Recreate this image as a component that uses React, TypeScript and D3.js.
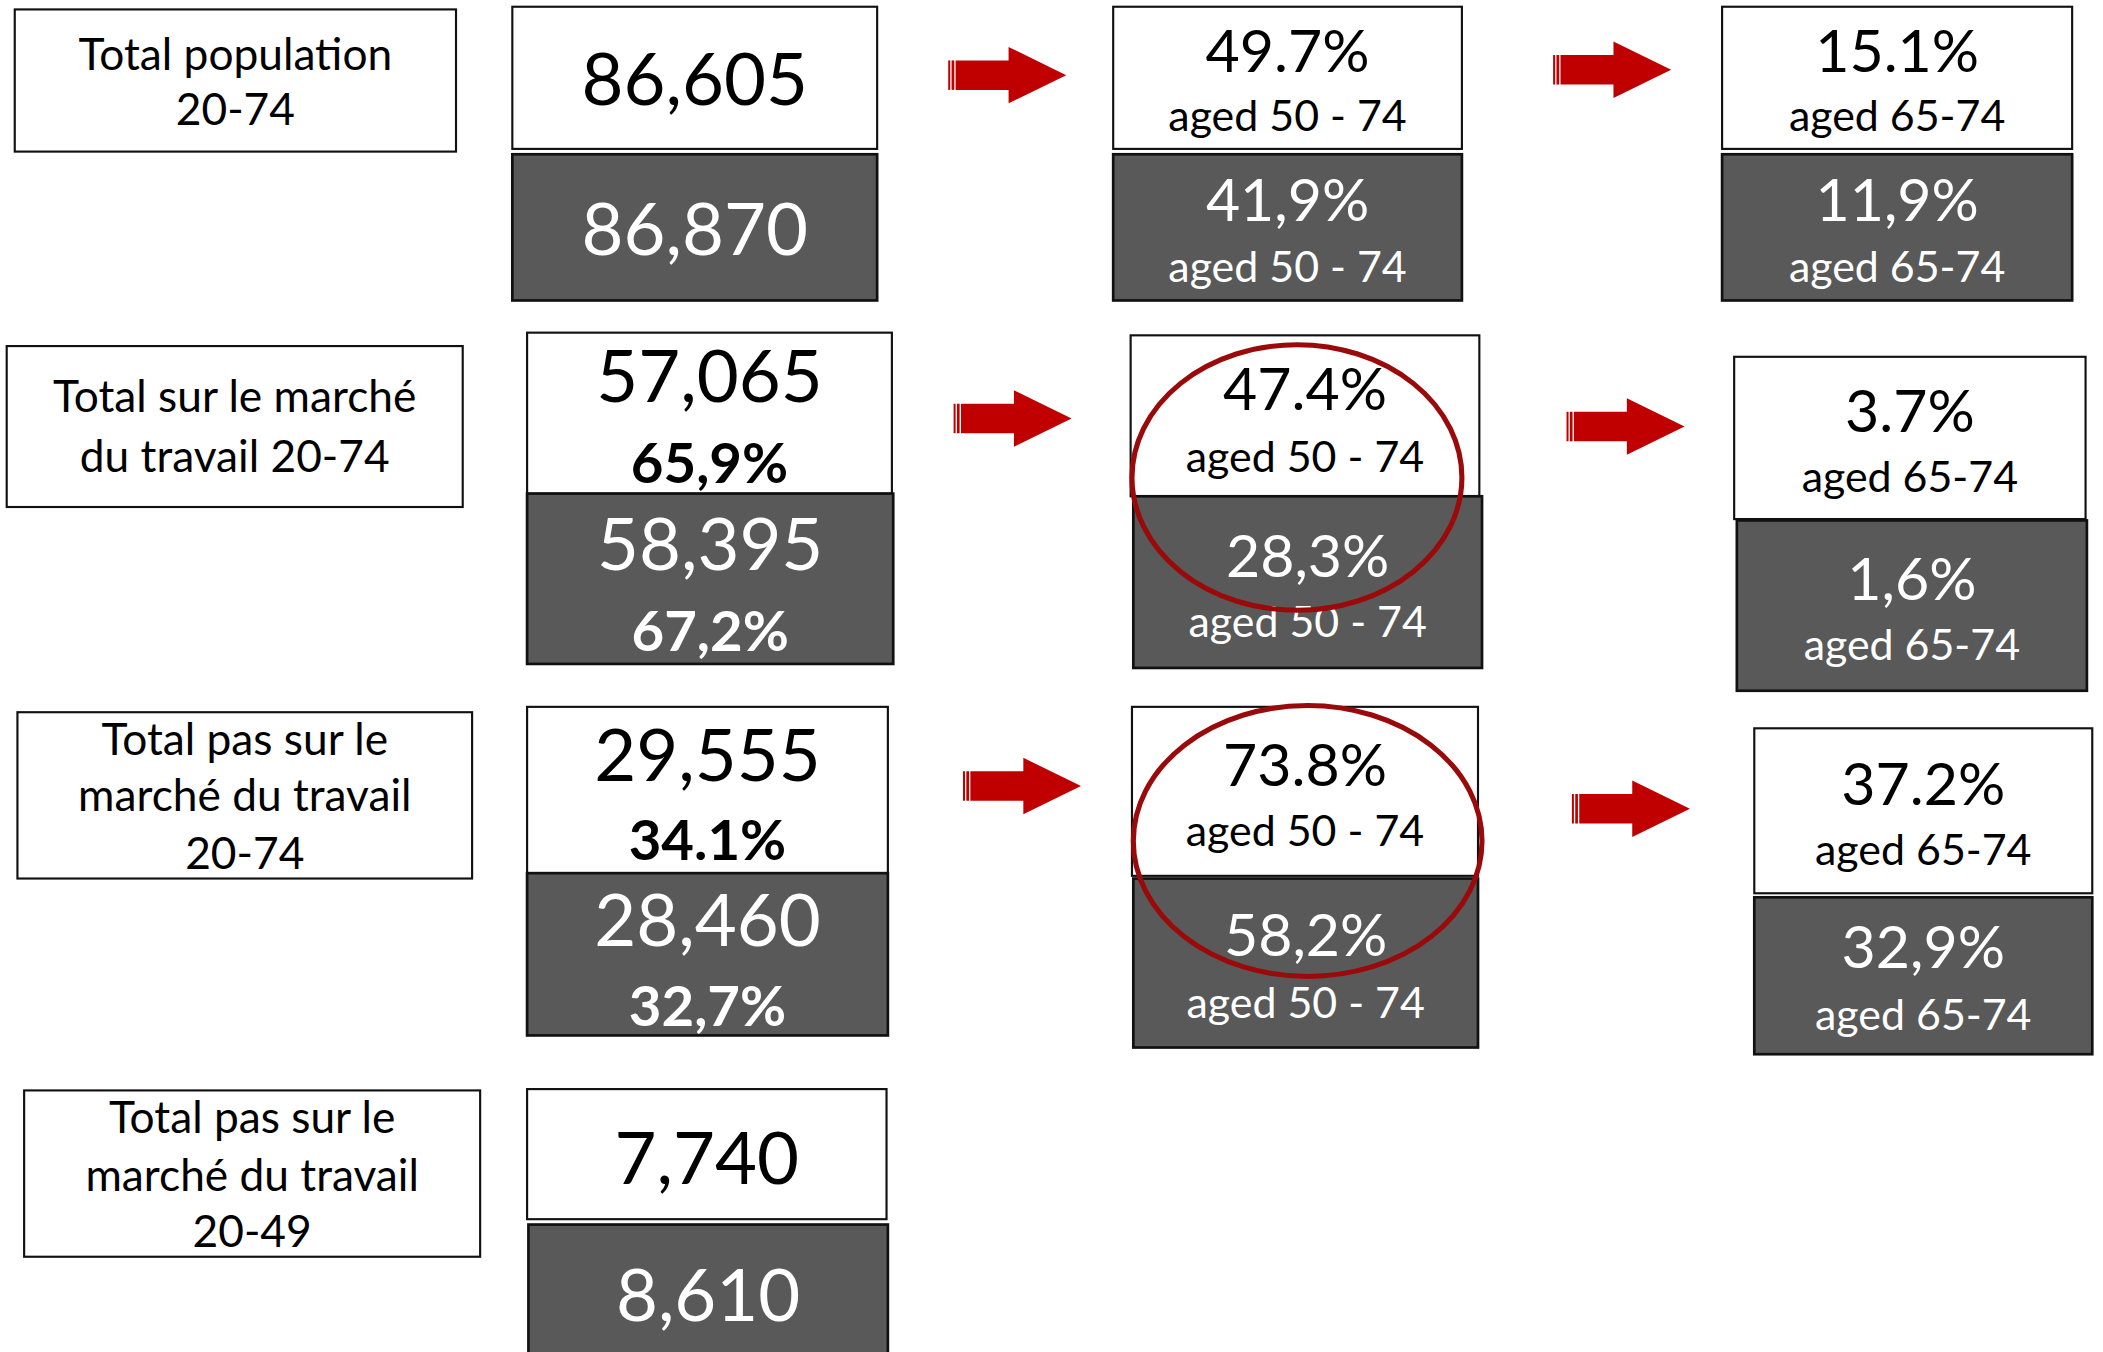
import { useEffect, useRef } from 'react';
import * as d3 from 'd3';

// values
const rowLabels = [
  ['Total population', '20-74'],
  ['Total sur le marché', 'du travail 20-74'],
  ['Total pas sur le', 'marché du travail', '20-74'],
  ['Total pas sur le', 'marché du travail', '20-49'],
];
const whiteTotals = ['86,605', '57,065', '29,555', '7,740'];
const whiteShares = ['', '65,9%', '34.1%', ''];
const darkTotals = ['86,870', '58,395', '28,460', '8,610'];
const darkShares = ['', '67,2%', '32,7%', ''];
const aged50White = ['49.7%', '47.4%', '73.8%'];
const aged50Dark = ['41,9%', '28,3%', '58,2%'];
const aged65White = ['15.1%', '3.7%', '37.2%'];
const aged65Dark = ['11,9%', '1,6%', '32,9%'];
const ageLabels = ['aged 50 - 74', 'aged 65-74'];
const circledRows = [1, 2];

// geometry (reference drawn in a 1568 x 1008 space)
const W = 1568;
const H = 1008;
type Box = { x: number; y: number; w: number; h: number };
const labelBoxes: Box[] = [
  { x: 11, y: 7, w: 329, h: 106 },
  { x: 5, y: 258, w: 340, h: 120 },
  { x: 13, y: 531, w: 339, h: 124 },
  { x: 18, y: 813, w: 340, h: 124 },
];
const labelBase = [[52, 93], [307, 352], [563, 605, 648], [845, 888, 930]];
const totW: Box[] = [
  { x: 382, y: 5, w: 272, h: 106 },
  { x: 393, y: 248, w: 272, h: 120 },
  { x: 393, y: 527, w: 269, h: 124 },
  { x: 393, y: 812, w: 268, h: 97 },
];
const totD: Box[] = [
  { x: 382, y: 115, w: 272, h: 109 },
  { x: 393, y: 368, w: 273, h: 127 },
  { x: 393, y: 651, w: 269, h: 121 },
  { x: 394, y: 913, w: 268, h: 110 },
];
const totWBase = [[78], [300, 360], [582, 641], [883]];
const totDBase = [[190], [425, 485], [705, 765], [985]];
const a50W: Box[] = [
  { x: 830, y: 5, w: 260, h: 106 },
  { x: 843, y: 250, w: 260, h: 120 },
  { x: 844, y: 527, w: 258, h: 126 },
];
const a50D: Box[] = [
  { x: 830, y: 115, w: 260, h: 109 },
  { x: 845, y: 370, w: 260, h: 128 },
  { x: 845, y: 655, w: 257, h: 126 },
];
const a65W: Box[] = [
  { x: 1284, y: 5, w: 261, h: 106 },
  { x: 1293, y: 266, w: 262, h: 121 },
  { x: 1308, y: 543, w: 252, h: 123 },
];
const a65D: Box[] = [
  { x: 1284, y: 115, w: 261, h: 109 },
  { x: 1295, y: 388, w: 261, h: 127 },
  { x: 1308, y: 669, w: 252, h: 117 },
];
const a50WBase = [[54, 98], [306, 352], [586, 631]];
const a50DBase = [[165, 210], [430, 475], [713, 759]];
const a65WBase = [[54, 98], [322, 367], [600, 645]];
const a65DBase = [[165, 210], [447, 492], [722, 768]];
const arrows = [
  [{ x: 707, y: 56 }, { x: 1158, y: 52 }],
  [{ x: 711, y: 312 }, { x: 1168, y: 318 }],
  [{ x: 718, y: 586 }, { x: 1172, y: 603 }],
];
const ellipses = [
  { cx: 967, cy: 356, rx: 123, ry: 99 },
  { cx: 975, cy: 627, rx: 130, ry: 101 },
];

const DARK = '#595959';
const RED = '#C00000';
const FONT = 'Lato, "Open Sans", sans-serif';

export default function App() {
  const ref = useRef<SVGSVGElement>(null);

  useEffect(() => {
    if (!ref.current) return;
    const svg = d3.select(ref.current);
    svg.selectAll('*').remove();
    const g = svg.append('g');

    const box = (b: Box, dark: boolean) =>
      g.append('rect')
        .attr('x', b.x).attr('y', b.y).attr('width', b.w).attr('height', b.h)
        .attr('fill', dark ? DARK : '#fff')
        .attr('stroke', '#111')
        .attr('stroke-width', dark ? 2 : 1.6);

    const text = (s: string, cx: number, y: number, size: number, color: string, bold = false) =>
      g.append('text')
        .attr('x', cx).attr('y', y)
        .attr('text-anchor', 'middle')
        .attr('font-family', FONT)
        .attr('font-size', size)
        .attr('font-weight', bold ? 700 : 400)
        .attr('fill', color)
        .text(s);

    rowLabels.forEach((lines, i) => {
      const b = labelBoxes[i];
      box(b, false);
      lines.forEach((l, j) => text(l, b.x + b.w / 2, labelBase[i][j], 33, '#000'));
    });

    whiteTotals.forEach((v, i) => {
      const bw = totW[i];
      const bd = totD[i];
      box(bw, false);
      box(bd, true);
      text(v, bw.x + bw.w / 2, totWBase[i][0], 54, '#000');
      if (whiteShares[i]) text(whiteShares[i], bw.x + bw.w / 2, totWBase[i][1], 42, '#000', true);
      text(darkTotals[i], bd.x + bd.w / 2, totDBase[i][0], 54, '#fff');
      if (darkShares[i]) text(darkShares[i], bd.x + bd.w / 2, totDBase[i][1], 42, '#fff', true);
    });

    const pctCol = (
      wv: string[], dv: string[], wb: Box[], db: Box[],
      wBase: number[][], dBase: number[][], label: string,
    ) => {
      wv.forEach((v, i) => {
        box(wb[i], false);
        box(db[i], true);
        const cxw = wb[i].x + wb[i].w / 2;
        const cxd = db[i].x + db[i].w / 2;
        text(v, cxw, wBase[i][0], 44, '#000');
        text(label, cxw, wBase[i][1], 32, '#000');
        text(dv[i], cxd, dBase[i][0], 44, '#fff');
        text(label, cxd, dBase[i][1], 32, '#fff');
      });
    };
    pctCol(aged50White, aged50Dark, a50W, a50D, a50WBase, a50DBase, ageLabels[0]);
    pctCol(aged65White, aged65Dark, a65W, a65D, a65WBase, a65DBase, ageLabels[1]);

    // striped block arrows
    const len = 88;
    const head = 43;
    const shaft = 11;
    const headH = 21;
    arrows.flat().forEach((a) => {
      const arrow = g.append('g').attr('transform', `translate(${a.x},${a.y})`);
      arrow.append('rect').attr('x', 0).attr('y', -shaft).attr('width', 1.5).attr('height', shaft * 2).attr('fill', RED);
      arrow.append('rect').attr('x', 2.5).attr('y', -shaft).attr('width', 2).attr('height', shaft * 2).attr('fill', RED);
      const path = d3.path();
      path.moveTo(5.5, -shaft);
      path.lineTo(len - head, -shaft);
      path.lineTo(len - head, -headH);
      path.lineTo(len, 0);
      path.lineTo(len - head, headH);
      path.lineTo(len - head, shaft);
      path.lineTo(5.5, shaft);
      path.closePath();
      arrow.append('path').attr('d', path.toString()).attr('fill', RED);
    });

    circledRows.forEach((_, k) => {
      const e = ellipses[k];
      g.append('ellipse')
        .attr('cx', e.cx).attr('cy', e.cy).attr('rx', e.rx).attr('ry', e.ry)
        .attr('fill', 'none')
        .attr('stroke', '#9A0A0A')
        .attr('stroke-width', 3.8);
    });
  }, []);

  return (
    <svg
      ref={ref}
      width={2103}
      height={1352}
      viewBox={`0 0 ${W} ${H}`}
      style={{ position: 'absolute', left: 0, top: 0, background: '#fff' }}
    />
  );
}
